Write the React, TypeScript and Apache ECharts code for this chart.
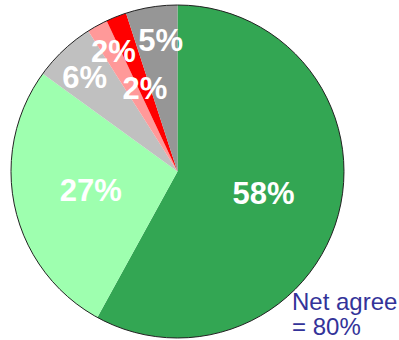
import React, { useEffect, useRef } from "react";
import * as echarts from "echarts";

const categories = ["58%", "27%", "6%", "2% (a)", "2% (b)", "5%"];
const labels = ["58%", "27%", "6%", "2%", "2%", "5%"];
const values = [58, 27, 6, 2, 2, 5];
const colors = ["#33a653", "#9effaf", "#c0c0c0", "#ff9999", "#ff0000", "#969696"];
const outerLabelCategories = ["6%", "2% (a)", "5%"];
const noteText = "Net agree\n= 80%";

const labelNudge: Record<string, number[]> = {
  "6%": [-2, 3],
  "2% (a)": [0, -4],
  "5%": [4, 0],
};

export default function App() {
  const ref = useRef<HTMLDivElement>(null);
  useEffect(() => {
    if (!ref.current) return;
    const chart = echarts.init(ref.current, undefined, { renderer: "svg" });
    const center = [177.5, 171.5];
    const R = 166.5;
    const labelStyle = {
      color: "#ffffff",
      fontFamily: "Liberation Sans, Arial, sans-serif",
      fontWeight: "bold" as const,
      fontSize: 31,
      lineHeight: 24,
    };
    const base = {
      type: "pie" as const,
      center,
      startAngle: 90,
      clockwise: true,
      silent: true,
      animation: false,
      avoidLabelOverlap: false,
      labelLayout: { hideOverlap: false },
      labelLine: { show: false },
      emphasis: { disabled: true },
    };
    chart.setOption({
      animation: false,
      series: [
        {
          ...base,
          radius: [0, R],
          label: { show: false },
          data: categories.map((c, i) => ({
            name: c,
            value: values[i],
            itemStyle: { color: colors[i], borderWidth: 0 },
          })),
        },
        {
          ...base,
          radius: [0, R * 1.03],
          z: 3,
          data: categories.map((c, i) => ({
            name: c,
            value: values[i],
            itemStyle: { color: "transparent", borderWidth: 0 },
            label: {
              show: !outerLabelCategories.includes(c),
              position: "inside",
              formatter: labels[i],
              ...labelStyle,
            },
          })),
        },
        {
          ...base,
          radius: [R * 0.56, R],
          z: 3,
          data: categories.map((c, i) => ({
            name: c,
            value: values[i],
            itemStyle: { color: "transparent", borderWidth: 0 },
            label: {
              show: outerLabelCategories.includes(c),
              position: "inside",
              formatter: labels[i],
              offset: labelNudge[c] || [0, 0],
              ...labelStyle,
            },
          })),
        },
        {
          ...base,
          radius: [0, R],
          z: 4,
          label: { show: false },
          data: [
            {
              name: "outline",
              value: 100,
              itemStyle: { color: "transparent", borderColor: "#222", borderWidth: 1 },
            },
          ],
        },
      ],
      graphic: [
        {
          type: "text",
          left: 292,
          top: 289,
          style: {
            text: noteText,
            fill: "#333399",
            font: "24px 'Liberation Sans', Arial, sans-serif",
            lineHeight: 25,
          },
        },
      ],
    });
    return () => chart.dispose();
  }, []);
  return (
    <div
      ref={ref}
      style={{ position: "absolute", left: 0, top: 0, width: 399, height: 340 }}
    />
  );
}
